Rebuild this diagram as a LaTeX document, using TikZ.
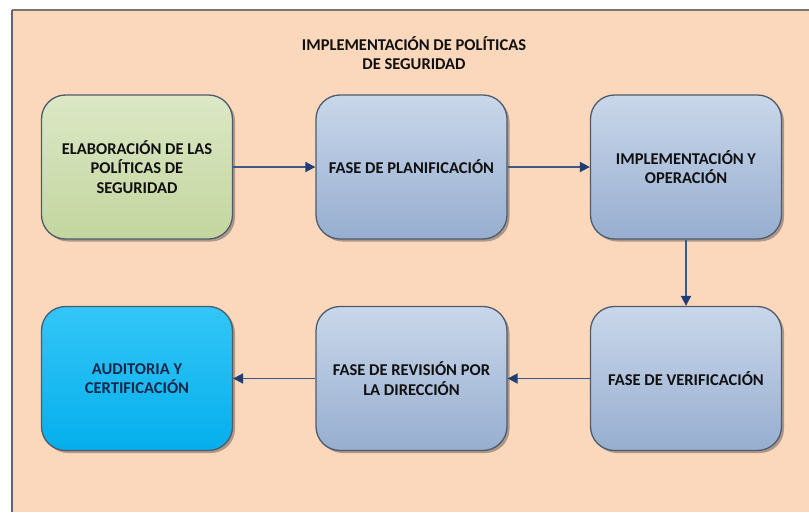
\documentclass[tikz,border=0pt]{standalone}
\usepackage{fontspec}
\setmainfont{Carlito}
\usetikzlibrary{arrows.meta,shadows}

\definecolor{panelfill}{HTML}{FBD8BB}
\definecolor{panelleft}{HTML}{5E6379}
\definecolor{paneltop}{HTML}{777777}
\definecolor{greentop}{HTML}{DCE8C6}
\definecolor{greenbot}{HTML}{C3D69E}
\definecolor{bluetop}{HTML}{C9D7EA}
\definecolor{bluebot}{HTML}{97AED0}
\definecolor{cyantop}{HTML}{33C6F7}
\definecolor{cyanbot}{HTML}{05AFEC}
\definecolor{boxedge}{HTML}{4E5B6C}
\definecolor{arrowline}{HTML}{3B5A86}
\definecolor{arrowhead}{HTML}{1F3E78}
\definecolor{textdark}{HTML}{101010}
\definecolor{textnavy}{HTML}{16284A}

\tikzset{
  stagebox/.style={rounded corners=24pt, minimum width=191pt, minimum height=144pt,
    draw=boxedge, line width=1.3pt, align=center, font=\bfseries\fontsize{16.5}{19.5}\selectfont,
    text=textdark,
    drop shadow={shadow xshift=2.5pt, shadow yshift=-2.5pt, opacity=0.45, fill=black!70}},
  greenstage/.style={stagebox, top color=greentop, bottom color=greenbot},
  bluestage/.style={stagebox, top color=bluetop, bottom color=bluebot},
  cyanstage/.style={stagebox, top color=cyantop, bottom color=cyanbot, text=textnavy},
  flow/.style={draw=arrowline, line width=1.8pt,
    -{Triangle[length=10pt,width=10pt,fill=arrowhead,color=arrowhead]}},
}

\begin{document}
\begin{tikzpicture}[x=1pt,y=-1pt]
  \useasboundingbox (0,0) rectangle (809,512);
  % panel
  \fill[white] (0,0) rectangle (809,512);
  \fill[panelfill] (12,10) rectangle (809,512);
  \draw[paneltop, line width=2pt] (12,10) -- (809,10);
  \draw[panelleft, line width=1.3pt] (12,10) -- (12,512);

  % title
  \node[align=center, font=\bfseries\fontsize{16.5}{19}\selectfont, text=textdark] (title) at (414,53)
    {IMPLEMENTACIÓN DE POLÍTICAS\\DE SEGURIDAD};

  % stages
  \node[greenstage] (elab) at (137,167) {ELABORACIÓN DE LAS\\POLÍTICAS DE\\SEGURIDAD};
  \node[bluestage] (plan) at (411.5,167) {FASE DE PLANIFICACIÓN};
  \node[bluestage] (impl) at (686,167) {IMPLEMENTACIÓN Y\\OPERACIÓN};
  \node[cyanstage] (audit) at (137,378.5) {AUDITORIA Y\\CERTIFICACIÓN};
  \node[bluestage] (rev) at (411.5,378.5) {FASE DE REVISIÓN POR\\LA DIRECCIÓN};
  \node[bluestage] (verif) at (686,378.5) {FASE DE VERIFICACIÓN};

  % connectors
  \draw[flow] (elab) -- (plan);
  \draw[flow] (plan) -- (impl);
  \draw[flow] (impl) -- (verif);
  \draw[flow] (verif) -- (rev);
  \draw[flow] (rev) -- (audit);
\end{tikzpicture}
\end{document}
